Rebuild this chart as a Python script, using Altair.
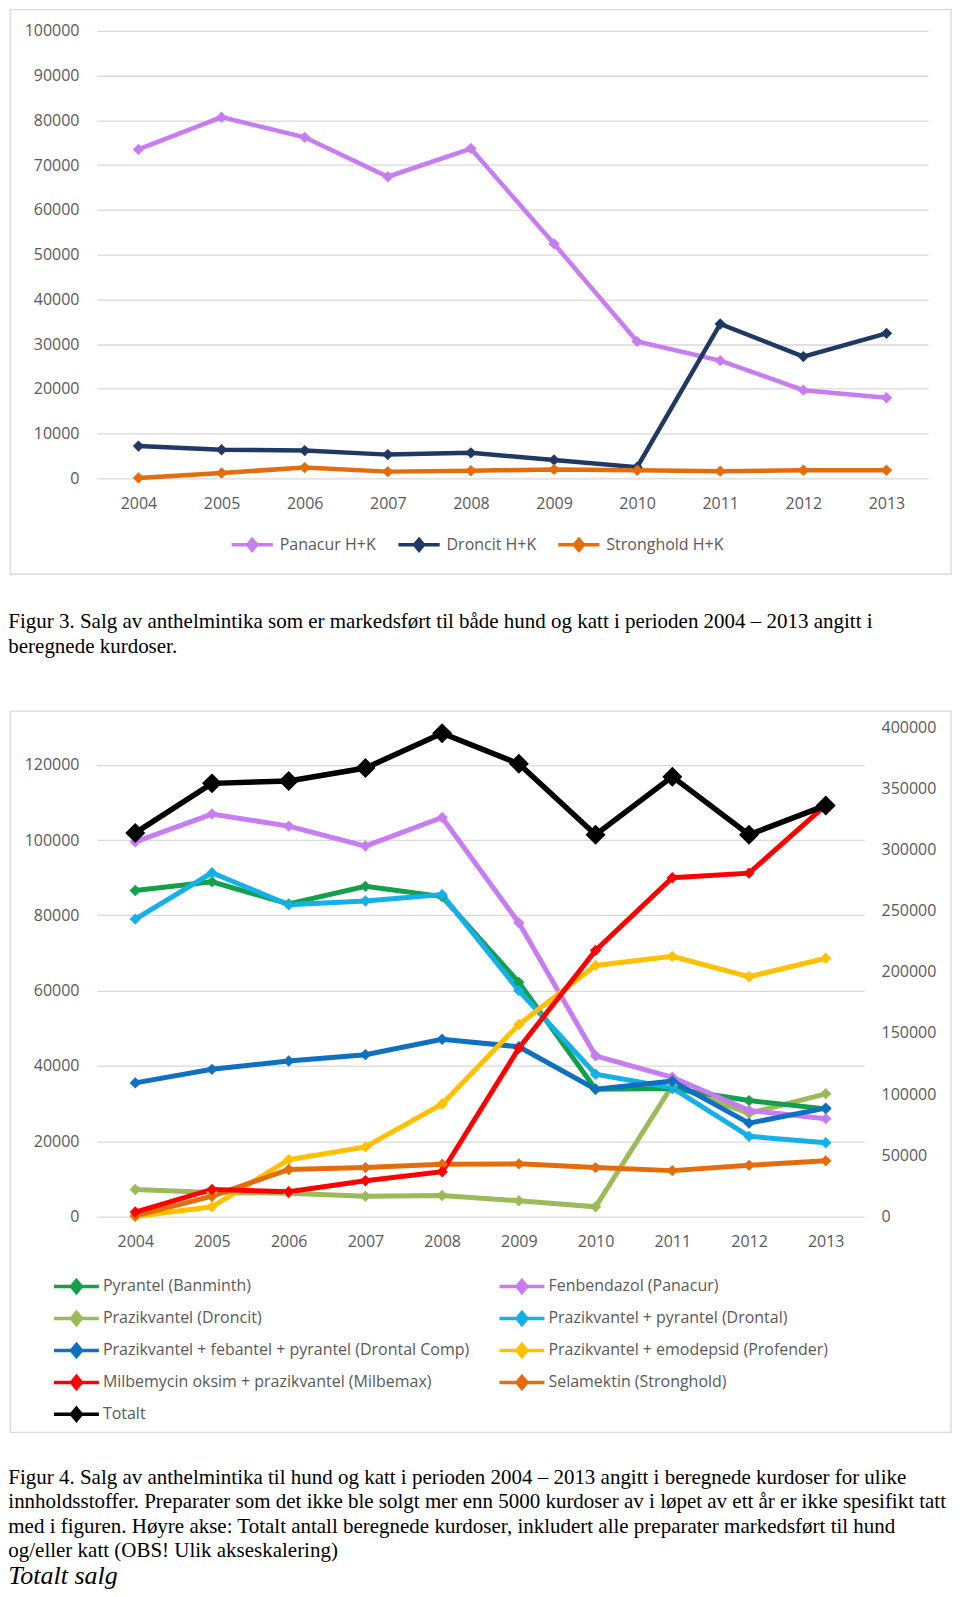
import altair as alt
import pandas as pd

# ---------------- data ----------------
years = [2004, 2005, 2006, 2007, 2008, 2009, 2010, 2011, 2012, 2013]

# Figur 3
top_series = ["Panacur H+K", "Droncit H+K", "Stronghold H+K"]
panacur_hk = [73500, 80700, 76200, 67400, 73700, 52400, 30600, 26300, 19700, 18000]
droncit_hk = [7200, 6400, 6200, 5300, 5700, 4100, 2500, 34500, 27200, 32400]
stronghold_hk = [100, 1200, 2400, 1500, 1700, 2000, 1800, 1600, 1800, 1800]
top_colors = ["#C77CF2", "#1F3864", "#E46C0A"]

# Figur 4 (legend order: left column first, then right column)
bottom_series = [
    "Pyrantel (Banminth)",
    "Prazikvantel (Droncit)",
    "Prazikvantel + febantel + pyrantel (Drontal Comp)",
    "Milbemycin oksim + prazikvantel (Milbemax)",
    "Totalt",
    "Fenbendazol (Panacur)",
    "Prazikvantel + pyrantel (Drontal)",
    "Prazikvantel + emodepsid (Profender)",
    "Selamektin (Stronghold)",
]
bottom_colors = ["#14A04B", "#9BBB59", "#0F6FC0", "#FF0000", "#000000",
                 "#C77CF2", "#14B0E8", "#FFC000", "#E46C0A"]
pyrantel = [86600, 88900, 83000, 87700, 85000, 62200, 33800, 34000, 30800, 28600]
fenbendazol = [99500, 106900, 103700, 98400, 106000, 78000, 42700, 37000, 28200, 26000]
droncit = [7200, 6400, 6200, 5400, 5600, 4200, 2600, 34800, 27400, 32600]
drontal = [79000, 91300, 82800, 83800, 85500, 60000, 37800, 34200, 21300, 19600]
drontal_comp = [35500, 39100, 41300, 43000, 47100, 45100, 33800, 36000, 24800, 28800]
profender = [0, 2600, 15100, 18500, 29900, 51000, 66700, 69100, 63700, 68600]
milbemax = [1200, 7200, 6600, 9500, 11900, 44700, 70700, 90000, 91200, 109300]
stronghold = [200, 5400, 12500, 13000, 13900, 14000, 13000, 12200, 13600, 14800]
totalt = [313500, 354000, 356000, 366500, 395000, 370000, 312000, 359500, 312000, 336000]

left_ticks = [0, 20000, 40000, 60000, 80000, 100000, 120000]
right_ticks = [0, 50000, 100000, 150000, 200000, 250000, 300000, 350000, 400000]
top_ticks = [0, 10000, 20000, 30000, 40000, 50000, 60000, 70000, 80000, 90000, 100000]

caption3 = [
    "Figur 3. Salg av anthelmintika som er markedsført til både hund og katt i perioden 2004 – 2013 angitt i",
    "beregnede kurdoser.",
]
caption4 = [
    "Figur 4. Salg av anthelmintika til hund og katt i perioden 2004 – 2013 angitt i beregnede kurdoser for ulike",
    "innholdsstoffer. Preparater som det ikke ble solgt mer enn 5000 kurdoser av i løpet av ett år er ikke spesifikt tatt",
    "med i figuren. Høyre akse: Totalt antall beregnede kurdoser, inkludert alle preparater markedsført til hund",
    "og/eller katt (OBS! Ulik akseskalering)",
]
heading = "Totalt salg"

# ---------------- tables ----------------
df_top = pd.DataFrame(
    [{"year": y, "serie": s, "value": v}
     for s, vals in zip(top_series, [panacur_hk, droncit_hk, stronghold_hk])
     for y, v in zip(years, vals)]
)
draw_order = [
    ("Prazikvantel (Droncit)", droncit),
    ("Pyrantel (Banminth)", pyrantel),
    ("Prazikvantel + pyrantel (Drontal)", drontal),
    ("Fenbendazol (Panacur)", fenbendazol),
    ("Prazikvantel + febantel + pyrantel (Drontal Comp)", drontal_comp),
    ("Prazikvantel + emodepsid (Profender)", profender),
    ("Selamektin (Stronghold)", stronghold),
    ("Milbemycin oksim + prazikvantel (Milbemax)", milbemax),
]
df_bot = pd.DataFrame(
    [{"year": y, "series": s, "value": v} for s, vals in draw_order for y, v in zip(years, vals)]
)
df_tot = pd.DataFrame([{"year": y, "series": "Totalt", "value": v} for y, v in zip(years, totalt)])
one = pd.DataFrame({"k": [0]})

# ---------------- style ----------------
FONT = "Open Sans"
GRAY = "#595959"
GRID = "#D9D9D9"
SERIF = "Liberation Serif"
SYM = "M-1,0L1,0M0,-0.26L0.22,0L0,0.26L-0.22,0Z"
SYM_WIDE = "M-1.5,0L1.5,0M0,-0.4L0.33,0L0,0.4L-0.33,0Z"

W_A, H_A = 832, 448
W_B, H_B = 768, 490
SPACING = 249

# ---------------- Figur 3 ----------------
xa = alt.X("year:O", title=None,
           axis=alt.Axis(labelAngle=0, domain=False, ticks=False, labelPadding=17, grid=False))
ya = alt.Y("value:Q", title=None, scale=alt.Scale(domain=[0, 100000], nice=False),
           axis=alt.Axis(values=top_ticks, format="d", domain=False, ticks=False,
                         labelPadding=18, grid=True, gridColor=GRID, gridWidth=1.3))
ca_scale = alt.Scale(domain=top_series, range=top_colors)

frame_a = alt.Chart(one).mark_rect(filled=False, stroke=GRID, strokeWidth=1.3).encode(
    x=alt.value(-86.7), x2=alt.value(855), y=alt.value(-21.3), y2=alt.value(544))
line_a = alt.Chart(df_top).mark_line(strokeWidth=4.5).encode(
    x=xa, y=ya,
    color=alt.Color("serie:N", scale=ca_scale, sort=top_series,
                    legend=alt.Legend(title=None, orient="none", legendX=133, legendY=492,
                                      direction="horizontal", symbolType=SYM, symbolSize=1700,
                                      symbolStrokeWidth=3.5, columnPadding=14, labelOffset=5,
                                      labelLimit=500)))
pts_a = alt.Chart(df_top).mark_point(shape="diamond", filled=True, size=130, opacity=1).encode(
    x=xa, y=ya, color=alt.Color("serie:N", scale=ca_scale, legend=None))
cap_a = alt.Chart(one).mark_text(align="left", baseline="top", font=SERIF, fontSize=21,
                                 lineHeight=24.4, color="black").encode(
    x=alt.value(-88.7), y=alt.value(581), text=alt.value(caption3))

chart_a = alt.layer(frame_a, line_a, pts_a, cap_a).properties(width=W_A, height=H_A)

# ---------------- Figur 4 ----------------
xb = alt.X("year:O", title=None,
           axis=alt.Axis(labelAngle=0, domain=False, ticks=False, labelPadding=17, grid=False))
yl = alt.Y("value:Q", title=None, scale=alt.Scale(domain=[0, 130000], nice=False),
           axis=alt.Axis(values=left_ticks, format="d", domain=False, ticks=False,
                         labelPadding=18, grid=True, gridColor=GRID, gridWidth=1.3))
yr = alt.Y("value:Q", title=None, scale=alt.Scale(domain=[0, 400000], nice=False),
           axis=alt.Axis(orient="right", values=right_ticks, format="d", domain=False,
                         ticks=False, labelPadding=17, grid=False))
cb_scale = alt.Scale(domain=bottom_series, range=bottom_colors)
legend_b = alt.Legend(title=None, orient="none", legendX=-37.5, legendY=543, columns=2,
                      symbolType=SYM_WIDE, symbolSize=900, symbolStrokeWidth=3.5,
                      columnPadding=22, rowPadding=2, labelOffset=9.5, labelLimit=600)

frame_b = alt.Chart(one).mark_rect(filled=False, stroke=GRID, strokeWidth=1.3).encode(
    x=alt.value(-86.7), x2=alt.value(855), y=alt.value(-15.9), y2=alt.value(706))
line_b = alt.Chart(df_bot).mark_line(strokeWidth=5).encode(
    x=xb, y=yl, color=alt.Color("series:N", scale=cb_scale, sort=bottom_series, legend=legend_b))
pts_b = alt.Chart(df_bot).mark_point(shape="diamond", filled=True, size=130, opacity=1).encode(
    x=xb, y=yl, color=alt.Color("series:N", scale=cb_scale, legend=None))
line_t = alt.Chart(df_tot).mark_line(strokeWidth=5.5).encode(
    x=xb, y=yr, color=alt.Color("series:N", scale=cb_scale, sort=bottom_series, legend=legend_b))
pts_t = alt.Chart(df_tot).mark_point(shape="diamond", filled=True, size=400, opacity=1).encode(
    x=xb, y=yr, color=alt.Color("series:N", scale=cb_scale, legend=None))
cap_b = alt.Chart(one).mark_text(align="left", baseline="top", font=SERIF, fontSize=21,
                                 lineHeight=24.2, color="black").encode(
    x=alt.value(-88.7), y=alt.value(741), text=alt.value(caption4))
head_b = alt.Chart(one).mark_text(align="left", baseline="top", font=SERIF, fontSize=26,
                                  fontStyle="italic", color="black").encode(
    x=alt.value(-88.7), y=alt.value(837), text=alt.value(heading))

left_part = alt.layer(line_b, pts_b)
right_part = alt.layer(line_t, pts_t)
chart_b = alt.layer(frame_b, left_part, right_part, cap_b, head_b).resolve_scale(
    y="independent").properties(width=W_B, height=H_B)

chart = alt.vconcat(chart_a, chart_b, spacing=SPACING, bounds="flush").resolve_scale(
    color="independent", x="independent"
).properties(padding=0, background="white").configure_view(stroke=None).configure_axis(
    labelFont=FONT, labelFontSize=16, labelColor=GRAY
).configure_legend(
    labelFont=FONT, labelFontSize=16, labelColor=GRAY
)

chart.save("out.html", embed_options={"renderer": "svg", "actions": False})
